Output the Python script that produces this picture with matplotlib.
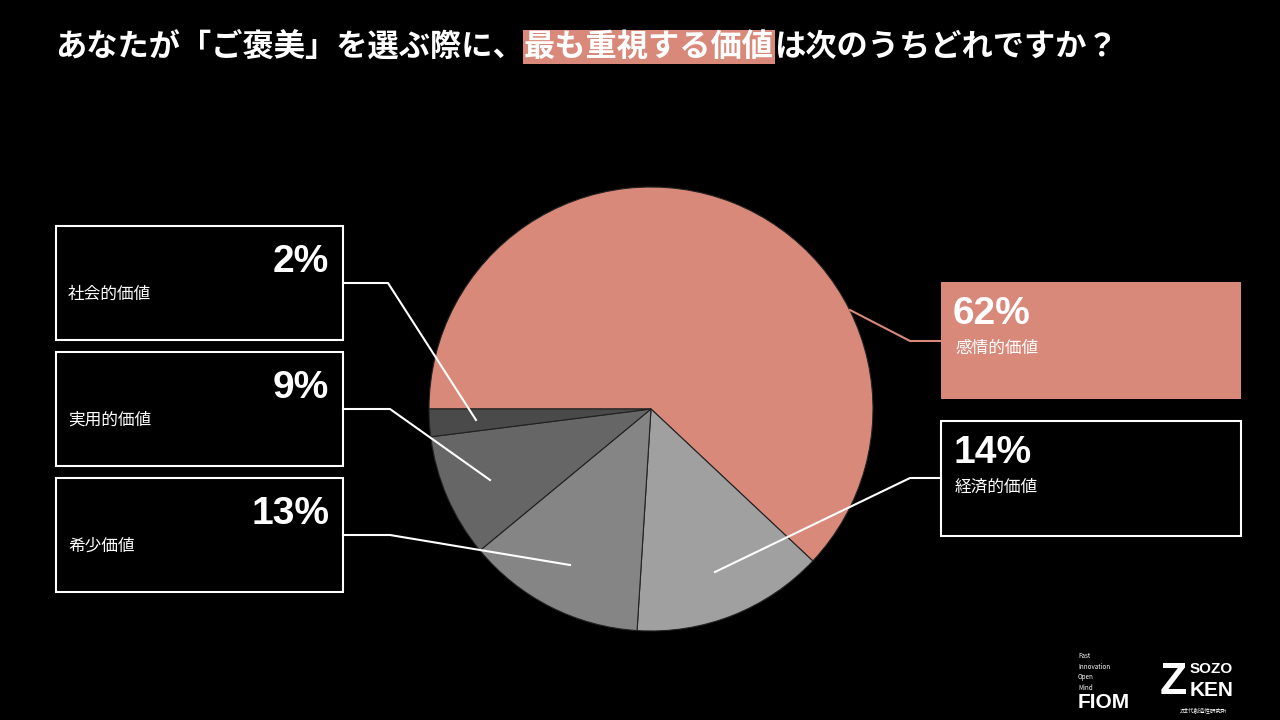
import matplotlib
matplotlib.use("Agg")
import matplotlib.pyplot as plt
from matplotlib.patches import Rectangle

plt.rcParams['font.family'] = ['Noto Sans CJK JP', 'DejaVu Sans']

labels = ['感情的価値', '経済的価値', '希少価値', '実用的価値', '社会的価値']
values = [62, 14, 13, 9, 2]
colors = ['#D8897A', '#A0A0A0', '#858585', '#666666', '#4A4A4A']
SALMON = '#D8897A'

fig = plt.figure(figsize=(12.8, 7.2), dpi=100, facecolor='black')
ax = fig.add_axes([0, 0, 1, 1])
ax.set_facecolor('black')

# y axis is inverted below, so counterclock=True appears clockwise on screen
ax.pie(values, colors=colors, startangle=180, counterclock=True,
       center=(651, 409), radius=222, frame=True,
       wedgeprops=dict(edgecolor='#222222', linewidth=0.8))
ax.set_xlim(0, 1280); ax.set_ylim(720, 0)
ax.set_aspect('equal'); ax.axis('off')

boxes = {
    '社会的価値': (56, 226, 343, 340, None, [(343, 283), (388, 283), (476, 420)], 'right'),
    '実用的価値': (56, 352, 343, 466, None, [(343, 409), (390, 409), (490, 480)], 'right'),
    '希少価値': (56, 478, 343, 592, None, [(343, 535), (390, 535), (570, 565)], 'right'),
    '感情的価値': (941, 282, 1241, 399, SALMON, [(941, 341), (910, 341), (850, 310)], 'left'),
    '経済的価値': (941, 421, 1241, 536, None, [(941, 478), (910, 478), (715, 572)], 'left'),
}
for lab, v in zip(labels, values):
    x0, y0, x1, y1, fill, pts, side = boxes[lab]
    if fill:
        ax.add_patch(Rectangle((x0, y0), x1 - x0, y1 - y0, facecolor=fill, edgecolor='none', zorder=3))
        lc = SALMON
    else:
        ax.add_patch(Rectangle((x0, y0), x1 - x0, y1 - y0, facecolor='black', edgecolor='white', lw=1.5, zorder=3))
        lc = 'white'
    ax.plot([p[0] for p in pts], [p[1] for p in pts], color=lc, lw=1.5, zorder=4)
    if side == 'right':
        ax.text(x1 - 14, y0 + 36, f'{v}%', color='white', fontsize=28, fontweight='bold',
                ha='right', va='center', family='Liberation Sans', zorder=5)
        ax.text(x0 + 12, y0 + 68, lab, color='white', fontsize=12, ha='left', va='center', zorder=5)
    else:
        ax.text(x0 + 12, y0 + 32, f'{v}%', color='white', fontsize=28, fontweight='bold',
                ha='left', va='center', family='Liberation Sans', zorder=5)
        ax.text(x0 + 14, y0 + 66, lab, color='white', fontsize=12, ha='left', va='center', zorder=5)

# title
t1 = fig.text(0.043, 1 - 47 / 720, 'あなたが「ご褒美」を選ぶ際に、', color='white', fontsize=22.5,
              fontweight='bold', ha='left', va='center')
t2 = ax.annotate('最も重視する価値', xy=(1, 0), xycoords=t1, ha='left', va='bottom',
                 color='white', fontsize=22.5, fontweight='bold',
                 bbox=dict(facecolor=SALMON, edgecolor='none', pad=1))
t3 = ax.annotate('は次のうちどれですか？', xy=(1, 0), xycoords=t2, ha='left', va='bottom',
                 color='white', fontsize=22.5, fontweight='bold')

# logos
fig.text(1078 / 1280, 1 - 672 / 720, 'Fast\nInnovation\nOpen\nMind', color='white', fontsize=4.5,
         ha='left', va='center', linespacing=1.4)
fig.text(1078 / 1280, 1 - 702 / 720, 'FIOM', color='white', fontsize=15, fontweight='bold',
         ha='left', va='center', family='Liberation Sans')
fig.text(1160 / 1280, 1 - 683 / 720, 'Z', color='white', fontsize=32, fontweight='bold',
         ha='left', va='center', family='Liberation Sans')
fig.text(1190 / 1280, 1 - 669 / 720, 'SOZO', color='white', fontsize=11, fontweight='bold',
         ha='left', va='center', family='Liberation Sans')
fig.text(1190 / 1280, 1 - 691 / 720, 'KEN', color='white', fontsize=15, fontweight='bold',
         ha='left', va='center', family='Liberation Sans')
fig.text(1180 / 1280, 1 - 710 / 720, 'Z世代創造性研究所', color='white', fontsize=4,
         ha='left', va='center')

fig.savefig('out.png', dpi=100, facecolor='black')
